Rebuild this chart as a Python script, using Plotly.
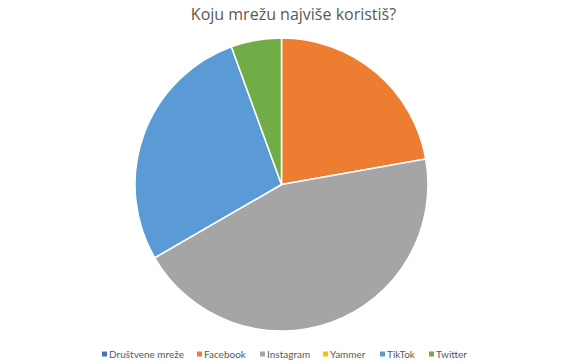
import plotly.graph_objects as go

labels = ["Društvene mreže", "Facebook", "Instagram", "Yammer", "TikTok", "Twitter"]
values = [0, 4, 8, 0, 5, 1]
colors = ["#4472C4", "#ED7D31", "#A5A5A5", "#FFC000", "#5B9BD5", "#70AD47"]
title_text = "Koju mrežu najviše koristiš?"

W, H = 563, 364
cx, cy, r = 281.5, 184.5, 146.5
legend_x = [102, 197, 260, 323, 380, 429]  # marker left edges (px)
legend_y = 354

fig = go.Figure()
fig.add_trace(go.Pie(
    labels=labels, values=values, sort=False, direction="clockwise", rotation=0,
    marker=dict(colors=colors, line=dict(color="white", width=1.5)),
    textinfo="none", hoverinfo="label+value+percent",
    domain=dict(x=[(cx - r) / W, (cx + r) / W], y=[(H - cy - r) / H, (H - cy + r) / H]),
    showlegend=False,
))

shapes, annotations = [], []
for lab, col, lx in zip(labels, colors, legend_x):
    shapes.append(dict(type="rect", xref="paper", yref="paper",
                       x0=lx / W, x1=(lx + 5) / W,
                       y0=(H - legend_y - 2.5) / H, y1=(H - legend_y + 2.5) / H,
                       fillcolor=col, line=dict(width=0)))
    annotations.append(dict(text=lab, xref="paper", yref="paper",
                            x=(lx + 5) / W, y=(H - legend_y) / H,
                            xanchor="left", yanchor="middle", showarrow=False,
                            font=dict(size=10, color="#595959", family="Lato, Open Sans, sans-serif")))

fig.update_layout(
    width=W, height=H,
    margin=dict(l=0, r=0, t=0, b=0),
    paper_bgcolor="white", plot_bgcolor="white",
    font=dict(family="Open Sans, Calibri, sans-serif", color="#595959"),
    title=dict(text=title_text, x=293.5 / W, xanchor="center",
               y=1 - 14 / H, yanchor="middle", font=dict(size=16, color="#595959")),
    shapes=shapes, annotations=annotations,
)
fig.write_html("out.html")
